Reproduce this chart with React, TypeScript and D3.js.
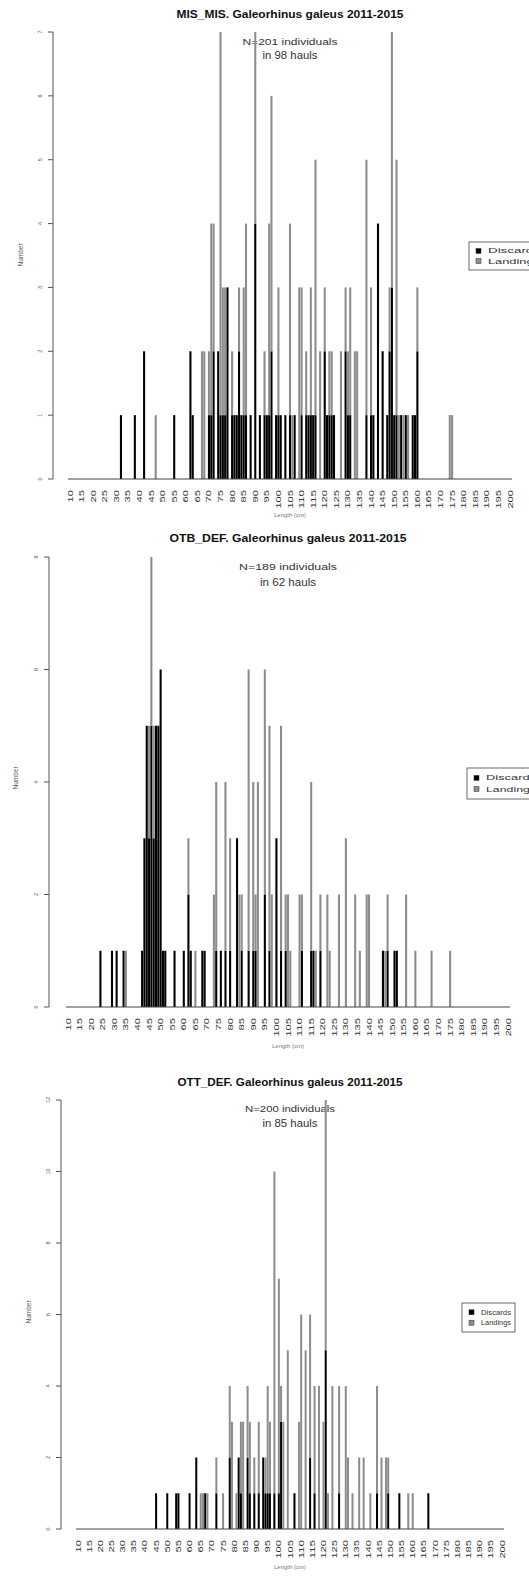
import React from "react";
import * as d3 from "d3";

// Length classes (cm) shown on every panel, and the labels printed under the bars
const lengthCategories = d3.range(10, 201);
const lengthTickLabels = [
  10, 15, 20, 25, 30, 35, 40, 45, 50, 55, 60, 65, 70, 75, 80, 85, 90, 95, 100,
  105, 110, 115, 120, 125, 130, 135, 140, 145, 150, 155, 160, 165, 170, 175,
  180, 185, 190, 195, 200,
];
const seriesNames = ["Discards", "Landings"];

// MIS_MIS fishery
const misLengths = [
  32, 38, 42, 47, 55, 62, 63, 67, 68, 70, 71, 72, 74, 75, 76, 77, 78, 80, 81,
  82, 83, 84, 85, 86, 88, 90, 92, 94, 95, 96, 97, 99, 100, 101, 103, 105, 106,
  107, 109, 110, 112, 113, 114, 115, 116, 118, 120, 121, 122, 123, 124, 127,
  129, 130, 131, 133, 134, 138, 140, 141, 143, 145, 147, 148, 149, 150, 151,
  152, 153, 154, 155, 156, 158, 159, 160, 174, 175,
];
const misDiscards = [
  1, 1, 2, 0, 1, 2, 1, 0, 0, 1, 1, 2, 2, 1, 1, 1, 3, 1, 1,
  1, 2, 1, 1, 1, 1, 4, 1, 1, 1, 1, 2, 1, 1, 1, 1, 1, 0,
  1, 0, 1, 1, 1, 1, 1, 1, 0, 2, 1, 1, 1, 1, 0,
  2, 1, 1, 0, 0, 1, 1, 1, 4, 2, 1, 2, 3, 1, 1,
  0, 1, 0, 1, 0, 1, 1, 2, 0, 0,
];
const misLandings = [
  0, 0, 0, 1, 0, 0, 0, 2, 2, 1, 3, 2, 0, 6, 2, 2, 0, 1, 0,
  0, 1, 0, 2, 3, 0, 3, 0, 1, 0, 3, 4, 0, 2, 0, 0, 3, 1,
  0, 3, 2, 1, 0, 2, 0, 4, 2, 1, 0, 1, 1, 0, 2,
  1, 1, 2, 2, 2, 4, 2, 0, 0, 0, 0, 1, 4, 0, 4,
  1, 0, 1, 0, 1, 0, 0, 1, 1, 1,
];

// OTB_DEF fishery
const otbLengths = [
  24, 29, 31, 34, 35, 42, 43, 44, 45, 46, 47, 48, 49, 50, 51, 52, 56, 60, 62,
  63, 65, 68, 69, 73, 74, 76, 78, 80, 83, 84, 85, 88, 90, 91, 92, 95, 97, 98,
  100, 102, 104, 105, 106, 110, 111, 115, 116, 117, 119, 122, 123, 127, 130,
  134, 136, 139, 140, 146, 147, 148, 151, 152, 156, 160, 167, 175,
];
const otbDiscards = [
  1, 1, 1, 1, 0, 1, 3, 5, 3, 5, 3, 5, 5, 6, 1, 1, 1, 1, 2,
  1, 0, 1, 1, 0, 1, 1, 1, 1, 3, 0, 1, 1, 1, 1, 0, 2, 1, 0,
  3, 1, 1, 0, 0, 0, 1, 1, 1, 0, 1, 0, 0, 0, 0,
  0, 0, 0, 0, 1, 0, 1, 1, 1, 0, 0, 0, 0,
];
const otbLandings = [
  0, 0, 0, 0, 1, 0, 0, 0, 2, 3, 2, 0, 0, 0, 0, 0, 0, 0, 1,
  0, 1, 0, 0, 2, 3, 0, 3, 2, 0, 2, 1, 5, 3, 1, 4, 4, 4, 2,
  0, 4, 1, 2, 1, 2, 1, 3, 0, 1, 1, 2, 1, 2, 3,
  2, 1, 2, 2, 0, 1, 1, 0, 0, 2, 1, 1, 1,
];

// OTT_DEF fishery
const ottLengths = [
  45, 50, 54, 55, 60, 63, 65, 66, 67, 68, 72, 75, 78, 79, 81, 82, 83, 84, 86,
  87, 89, 91, 93, 94, 95, 96, 98, 100, 101, 102, 104, 107, 109, 110, 112, 114,
  116, 118, 120, 121, 122, 124, 127, 130, 131, 133, 136, 138, 141, 144, 146,
  148, 149, 154, 158, 160, 167,
];
const ottDiscards = [
  1, 1, 1, 1, 1, 2, 0, 0, 1, 0, 1, 0, 2, 0, 0, 2, 1, 0, 2,
  1, 1, 1, 2, 1, 1, 1, 1, 1, 3, 0, 0, 1, 0, 0, 0, 2,
  1, 0, 0, 5, 0, 0, 1, 0, 0, 0, 0, 0, 0, 1, 0,
  0, 1, 1, 0, 0, 1,
];
const ottLandings = [
  0, 0, 0, 0, 0, 0, 1, 1, 0, 1, 1, 1, 2, 3, 1, 0, 2, 3, 2,
  2, 1, 2, 0, 1, 3, 2, 9, 6, 1, 3, 5, 0, 3, 6, 5, 4,
  3, 4, 3, 7, 1, 4, 3, 4, 2, 1, 2, 2, 1, 3, 2,
  2, 1, 0, 1, 1, 0,
];

type Row = { length: number; discards: number; landings: number };

type PanelProps = {
  title: string;
  titleW: number;
  nLine: string;
  nW: number;
  haulLine: string;
  haulW: number;
  lengths: number[];
  discards: number[];
  landings: number[];
  yMax: number;
  yTicks: number[];
  axisX: number;
  yTop: number;
  yBase: number;
  x10: number;
  x200: number;
  titleY: number;
  nY: number;
  haulY: number;
  legendX: number;
  legendY: number;
  legendW: number;
  legendH: number;
  legendFont: number;
  legendTextW: number;
  yLabelX: number;
  yLabelY: number;
  xTitleY: number;
};

const GREY = "#8d8d8d";
const FONT = "'Liberation Sans', Arial, sans-serif";

function Panel(p: PanelProps) {
  const rows: Row[] = lengthCategories.map((len) => {
    const i = p.lengths.indexOf(len);
    return {
      length: len,
      discards: i >= 0 ? p.discards[i] : 0,
      landings: i >= 0 ? p.landings[i] : 0,
    };
  });

  const step = (p.x200 - p.x10) / (lengthCategories.length - 1);
  const x = d3
    .scaleBand<number>()
    .domain(lengthCategories)
    .range([p.x10 - step / 2, p.x200 + step / 2])
    .paddingInner(0.1)
    .paddingOuter(0.05);
  const y = d3.scaleLinear().domain([0, p.yMax]).range([p.yBase, p.yTop]);

  const stacked = d3.stack<Row>().keys(["discards", "landings"])(rows);
  const fills = ["#000000", GREY];
  const cx = (p.x10 + p.x200) / 2;
  const bw = x.bandwidth();

  return (
    <g fontFamily={FONT}>
      {/* titles */}
      <text x={cx} y={p.titleY} textAnchor="middle" dominantBaseline="central" fontWeight="bold" fontSize={11} fill="#111" textLength={p.titleW} lengthAdjust="spacingAndGlyphs">
        {p.title}
      </text>
      <text x={cx} y={p.nY} textAnchor="middle" dominantBaseline="central" fontSize={9.5} fill="#333" textLength={p.nW} lengthAdjust="spacingAndGlyphs">
        {p.nLine}
      </text>
      <text x={cx} y={p.haulY} textAnchor="middle" dominantBaseline="central" fontSize={10.5} fill="#333" textLength={p.haulW} lengthAdjust="spacingAndGlyphs">
        {p.haulLine}
      </text>

      {/* stacked bars: discards below, landings above */}
      {stacked.map((s, si) => (
        <g key={s.key} fill={fills[si]}>
          {s.map((d, i) => {
            const h = y(d[0]) - y(d[1]);
            if (h <= 0) return null;
            return <rect key={i} x={x(d.data.length)} y={y(d[1])} width={bw} height={h} />;
          })}
        </g>
      ))}

      {/* baseline under bars */}
      <line x1={p.x10 - 2} x2={p.x200 + 2} y1={p.yBase} y2={p.yBase} stroke="#444" strokeWidth={1} />

      {/* y axis */}
      <line x1={p.axisX} x2={p.axisX} y1={y(0)} y2={y(p.yMax)} stroke="#555" strokeWidth={1} />
      {p.yTicks.map((t) => (
        <g key={t}>
          <line x1={p.axisX - 5} x2={p.axisX} y1={y(t)} y2={y(t)} stroke="#555" strokeWidth={1} />
          <text transform={`translate(${p.axisX - 13},${y(t)}) rotate(-90)`} textAnchor="middle" dominantBaseline="central" fontSize={5.5} fill="#555">
            {t}
          </text>
        </g>
      ))}
      <text transform={`translate(${p.yLabelX},${p.yLabelY}) rotate(-90)`} textAnchor="middle" dominantBaseline="central" fontSize={6.5} fill="#555">
        Number
      </text>

      {/* x labels */}
      {lengthTickLabels.map((v) => (
        <text
          key={v}
          transform={`translate(${(x(v) ?? 0) + bw / 2},${p.yBase + 11}) rotate(-90)`}
          textAnchor="end"
          dominantBaseline="central"
          fontSize={7}
          fill="#333"
          textLength={String(v).length * 6.2}
          lengthAdjust="spacingAndGlyphs"
        >
          {v}
        </text>
      ))}
      <text x={cx} y={p.xTitleY} textAnchor="middle" dominantBaseline="central" fontSize={6} fill="#777">
        Length (cm)
      </text>

      {/* legend */}
      <rect x={p.legendX} y={p.legendY} width={p.legendW} height={p.legendH} fill="#fff" stroke="#444" strokeWidth={0.8} />
      {seriesNames.map((name, i) => {
        const rowY = p.legendY + p.legendH * (i === 0 ? 0.32 : 0.68);
        return (
          <g key={name}>
            <rect x={p.legendX + 7} y={rowY - 2.5} width={5} height={5} fill={fills[i]} stroke="#333" strokeWidth={0.5} />
            <text x={p.legendX + 19} y={rowY} dominantBaseline="central" fontSize={p.legendFont} fill="#333" textLength={p.legendTextW} lengthAdjust="spacingAndGlyphs">
              {name}
            </text>
          </g>
        );
      })}
    </g>
  );
}

export default function App() {
  return (
    <svg
      width={529}
      height={1578}
      viewBox="0 0 529 1578"
      style={{ position: "absolute", left: 0, top: 0, background: "#fff" }}
    >
      <rect x={0} y={0} width={529} height={1578} fill="#fff" />
      <Panel
        title="MIS_MIS. Galeorhinus galeus 2011-2015"
        titleW={227}
        nLine="N=201 individuals"
        nW={95}
        haulLine="in 98 hauls"
        haulW={55}
        lengths={misLengths}
        discards={misDiscards}
        landings={misLandings}
        yMax={7}
        yTicks={[0, 1, 2, 3, 4, 5, 6, 7]}
        axisX={53}
        yTop={32}
        yBase={479}
        x10={70}
        x200={510}
        titleY={14}
        nY={41}
        haulY={55}
        legendX={469}
        legendY={242}
        legendW={80}
        legendH={28}
        legendFont={7}
        legendTextW={52}
        yLabelX={20}
        yLabelY={255}
        xTitleY={515}
      />
      <Panel
        title="OTB_DEF. Galeorhinus galeus 2011-2015"
        titleW={237}
        nLine="N=189 individuals"
        nW={98}
        haulLine="in 62 hauls"
        haulW={56}
        lengths={otbLengths}
        discards={otbDiscards}
        landings={otbLandings}
        yMax={8}
        yTicks={[0, 2, 4, 6, 8]}
        axisX={49}
        yTop={557}
        yBase={1007}
        x10={68}
        x200={508}
        titleY={538}
        nY={566}
        haulY={582}
        legendX={467}
        legendY={768}
        legendW={80}
        legendH={31}
        legendFont={7}
        legendTextW={50}
        yLabelX={15}
        yLabelY={778}
        xTitleY={1046}
      />
      <Panel
        title="OTT_DEF. Galeorhinus galeus 2011-2015"
        titleW={225}
        nLine="N=200 individuals"
        nW={90}
        haulLine="in 85 hauls"
        haulW={55}
        lengths={ottLengths}
        discards={ottDiscards}
        landings={ottLandings}
        yMax={12}
        yTicks={[0, 2, 4, 6, 8, 10, 12]}
        axisX={61}
        yTop={1100}
        yBase={1529}
        x10={78}
        x200={502}
        titleY={1082}
        nY={1108}
        haulY={1123}
        legendX={462}
        legendY={1303}
        legendW={53}
        legendH={29}
        legendFont={6.5}
        legendTextW={30}
        yLabelX={28}
        yLabelY={1312}
        xTitleY={1567}
      />
    </svg>
  );
}
